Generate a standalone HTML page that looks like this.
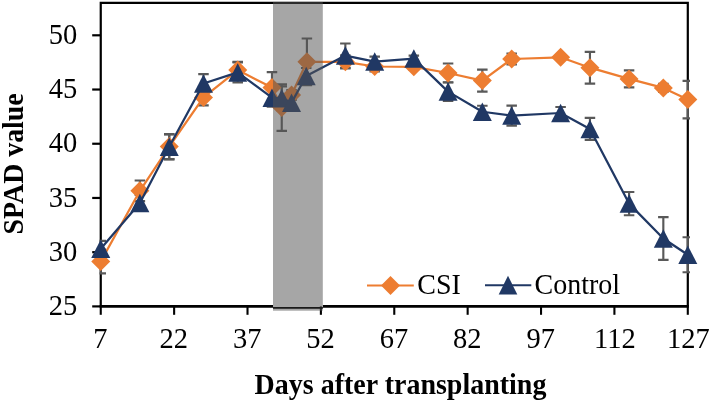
<!DOCTYPE html>
<html><head><meta charset="utf-8"><style>
html,body{margin:0;padding:0;background:#fff;}
svg{display:block;will-change:transform;}
.t{font-family:"Liberation Serif",serif;font-size:28.5px;fill:#000;}
.l{font-family:"Liberation Serif",serif;font-size:28px;fill:#000;}
.b{font-family:"Liberation Serif",serif;font-size:28px;font-weight:bold;fill:#000;}
</style></head><body>
<svg width="711" height="403" viewBox="0 0 711 403">
<defs><clipPath id="pc"><rect x="99.5" y="0" width="590.5" height="403"/></clipPath></defs>
<rect width="711" height="403" fill="#fff"/>
<path d="M100.75 306.4V2.9H687.8V306.4" fill="none" stroke="#000" stroke-width="2.2"/>
<path d="M99.65 306.4H273M322.9 306.4H688.9" fill="none" stroke="#000" stroke-width="2.6"/>
<line x1="92.2" y1="306.40" x2="100.75" y2="306.40" stroke="#000" stroke-width="2.2"/>
<text x="77.3" y="315.00" text-anchor="end" class="t">25</text>
<line x1="92.2" y1="252.18" x2="100.75" y2="252.18" stroke="#000" stroke-width="2.2"/>
<text x="77.3" y="260.78" text-anchor="end" class="t">30</text>
<line x1="92.2" y1="197.96" x2="100.75" y2="197.96" stroke="#000" stroke-width="2.2"/>
<text x="77.3" y="206.56" text-anchor="end" class="t">35</text>
<line x1="92.2" y1="143.74" x2="100.75" y2="143.74" stroke="#000" stroke-width="2.2"/>
<text x="77.3" y="152.34" text-anchor="end" class="t">40</text>
<line x1="92.2" y1="89.52" x2="100.75" y2="89.52" stroke="#000" stroke-width="2.2"/>
<text x="77.3" y="98.12" text-anchor="end" class="t">45</text>
<line x1="92.2" y1="35.30" x2="100.75" y2="35.30" stroke="#000" stroke-width="2.2"/>
<text x="77.3" y="43.90" text-anchor="end" class="t">50</text>
<line x1="100.75" y1="306.4" x2="100.75" y2="314.8" stroke="#000" stroke-width="2.1"/>
<text x="100.45" y="347.7" text-anchor="middle" class="t">7</text>
<line x1="174.13" y1="306.4" x2="174.13" y2="314.8" stroke="#000" stroke-width="2.1"/>
<text x="173.83" y="347.7" text-anchor="middle" class="t">22</text>
<line x1="247.51" y1="306.4" x2="247.51" y2="314.8" stroke="#000" stroke-width="2.1"/>
<text x="247.21" y="347.7" text-anchor="middle" class="t">37</text>
<line x1="320.89" y1="306.4" x2="320.89" y2="314.8" stroke="#000" stroke-width="2.1"/>
<text x="320.59" y="347.7" text-anchor="middle" class="t">52</text>
<line x1="394.27" y1="306.4" x2="394.27" y2="314.8" stroke="#000" stroke-width="2.1"/>
<text x="393.97" y="347.7" text-anchor="middle" class="t">67</text>
<line x1="467.65" y1="306.4" x2="467.65" y2="314.8" stroke="#000" stroke-width="2.1"/>
<text x="467.35" y="347.7" text-anchor="middle" class="t">82</text>
<line x1="541.03" y1="306.4" x2="541.03" y2="314.8" stroke="#000" stroke-width="2.1"/>
<text x="540.73" y="347.7" text-anchor="middle" class="t">97</text>
<line x1="614.41" y1="306.4" x2="614.41" y2="314.8" stroke="#000" stroke-width="2.1"/>
<text x="614.91" y="347.7" text-anchor="middle" class="t">112</text>
<line x1="687.79" y1="306.4" x2="687.79" y2="314.8" stroke="#000" stroke-width="2.1"/>
<text x="688.29" y="347.7" text-anchor="middle" class="t">127</text>
<g clip-path="url(#pc)"><path d="M100.75 249.60V273.40M95.50 249.60H106.00M95.50 273.40H106.00" stroke="#595959" stroke-width="2.15" fill="none"/><path d="M139.89 180.50V201.10M134.64 180.50H145.14M134.64 201.10H145.14" stroke="#595959" stroke-width="2.15" fill="none"/><path d="M169.24 134.10V159.10M163.99 134.10H174.49M163.99 159.10H174.49" stroke="#595959" stroke-width="2.15" fill="none"/><path d="M203.48 89.40V105.40M198.23 89.40H208.73M198.23 105.40H208.73" stroke="#595959" stroke-width="2.15" fill="none"/><path d="M237.73 61.80V78.40M232.48 61.80H242.98M232.48 78.40H242.98" stroke="#595959" stroke-width="2.15" fill="none"/><path d="M271.97 72.10V103.10M266.72 72.10H277.22M266.72 103.10H277.22" stroke="#595959" stroke-width="2.15" fill="none"/><path d="M281.75 84.40V130.80M276.50 84.40H287.00M276.50 130.80H287.00" stroke="#595959" stroke-width="2.15" fill="none"/><path d="M291.54 90.00V100.00M286.29 90.00H296.79M286.29 100.00H296.79" stroke="#595959" stroke-width="2.15" fill="none"/><path d="M306.91 38.50V85.10M301.66 38.50H312.16M301.66 85.10H312.16" stroke="#595959" stroke-width="2.15" fill="none"/><path d="M345.35 55.30V68.30M340.10 55.30H350.60M340.10 68.30H350.60" stroke="#595959" stroke-width="2.15" fill="none"/><path d="M374.70 61.50V71.50M369.45 61.50H379.95M369.45 71.50H379.95" stroke="#595959" stroke-width="2.15" fill="none"/><path d="M413.84 63.80V69.80M408.59 63.80H419.09M408.59 69.80H419.09" stroke="#595959" stroke-width="2.15" fill="none"/><path d="M448.08 63.50V82.50M442.83 63.50H453.33M442.83 82.50H453.33" stroke="#595959" stroke-width="2.15" fill="none"/><path d="M482.33 69.60V91.60M477.08 69.60H487.58M477.08 91.60H487.58" stroke="#595959" stroke-width="2.15" fill="none"/><path d="M511.68 53.50V64.50M506.43 53.50H516.93M506.43 64.50H516.93" stroke="#595959" stroke-width="2.15" fill="none"/><path d="M560.60 55.30V59.30M555.35 55.30H565.85M555.35 59.30H565.85" stroke="#595959" stroke-width="2.15" fill="none"/><path d="M589.95 51.80V83.60M584.70 51.80H595.20M584.70 83.60H595.20" stroke="#595959" stroke-width="2.15" fill="none"/><path d="M629.09 70.40V87.40M623.84 70.40H634.34M623.84 87.40H634.34" stroke="#595959" stroke-width="2.15" fill="none"/><path d="M663.33 83.90V91.90M658.08 83.90H668.58M658.08 91.90H668.58" stroke="#595959" stroke-width="2.15" fill="none"/><path d="M687.79 80.90V118.30M682.54 80.90H693.04M682.54 118.30H693.04" stroke="#595959" stroke-width="2.15" fill="none"/><path d="M100.75 240.90V256.60M95.50 240.90H106.00M95.50 256.60H106.00" stroke="#595959" stroke-width="2.15" fill="none"/><path d="M139.89 194.90V210.90M134.64 194.90H145.14M134.64 210.90H145.14" stroke="#595959" stroke-width="2.15" fill="none"/><path d="M169.24 134.35V159.35M163.99 134.35H174.49M163.99 159.35H174.49" stroke="#595959" stroke-width="2.15" fill="none"/><path d="M203.48 74.10V92.90M198.23 74.10H208.73M198.23 92.90H208.73" stroke="#595959" stroke-width="2.15" fill="none"/><path d="M237.73 62.40V82.40M232.48 62.40H242.98M232.48 82.40H242.98" stroke="#595959" stroke-width="2.15" fill="none"/><path d="M271.97 88.65V106.65M266.72 88.65H277.22M266.72 106.65H277.22" stroke="#595959" stroke-width="2.15" fill="none"/><path d="M281.75 86.30V110.30M276.50 86.30H287.00M276.50 110.30H287.00" stroke="#595959" stroke-width="2.15" fill="none"/><path d="M291.54 94.65V110.65M286.29 94.65H296.79M286.29 110.65H296.79" stroke="#595959" stroke-width="2.15" fill="none"/><path d="M306.21 68.00V84.00M300.96 68.00H311.46M300.96 84.00H311.46" stroke="#595959" stroke-width="2.15" fill="none"/><path d="M345.35 43.50V67.70M340.10 43.50H350.60M340.10 67.70H350.60" stroke="#595959" stroke-width="2.15" fill="none"/><path d="M374.70 56.60V66.60M369.45 56.60H379.95M369.45 66.60H379.95" stroke="#595959" stroke-width="2.15" fill="none"/><path d="M413.84 55.60V61.60M408.59 55.60H419.09M408.59 61.60H419.09" stroke="#595959" stroke-width="2.15" fill="none"/><path d="M448.08 82.20V101.00M442.83 82.20H453.33M442.83 101.00H453.33" stroke="#595959" stroke-width="2.15" fill="none"/><path d="M482.33 105.75V117.75M477.08 105.75H487.58M477.08 117.75H487.58" stroke="#595959" stroke-width="2.15" fill="none"/><path d="M511.68 105.60V125.60M506.43 105.60H516.93M506.43 125.60H516.93" stroke="#595959" stroke-width="2.15" fill="none"/><path d="M560.60 107.00V119.00M555.35 107.00H565.85M555.35 119.00H565.85" stroke="#595959" stroke-width="2.15" fill="none"/><path d="M589.95 117.90V139.90M584.70 117.90H595.20M584.70 139.90H595.20" stroke="#595959" stroke-width="2.15" fill="none"/><path d="M629.09 192.00V215.20M623.84 192.00H634.34M623.84 215.20H634.34" stroke="#595959" stroke-width="2.15" fill="none"/><path d="M663.33 217.10V259.90M658.08 217.10H668.58M658.08 259.90H668.58" stroke="#595959" stroke-width="2.15" fill="none"/><path d="M687.79 237.20V272.20M682.54 237.20H693.04M682.54 272.20H693.04" stroke="#595959" stroke-width="2.15" fill="none"/></g>
<polyline points="100.75,261.50 139.89,190.80 169.24,146.60 203.48,97.40 237.73,70.10 271.97,87.60 281.75,107.60 291.54,95.00 306.91,61.80 345.35,61.80 374.70,66.50 413.84,66.80 448.08,73.00 482.33,80.60 511.68,59.00 560.60,57.30 589.95,67.70 629.09,78.90 663.33,87.90 687.79,99.60" fill="none" stroke="#ED7D31" stroke-width="2.25" stroke-linejoin="round"/>
<path d="M100.75 252.00L110.25 261.50L100.75 271.00L91.25 261.50Z" fill="#ED7D31"/>
<path d="M139.89 181.30L149.39 190.80L139.89 200.30L130.39 190.80Z" fill="#ED7D31"/>
<path d="M169.24 137.10L178.74 146.60L169.24 156.10L159.74 146.60Z" fill="#ED7D31"/>
<path d="M203.48 87.90L212.98 97.40L203.48 106.90L193.98 97.40Z" fill="#ED7D31"/>
<path d="M237.73 60.60L247.23 70.10L237.73 79.60L228.23 70.10Z" fill="#ED7D31"/>
<path d="M271.97 78.10L281.47 87.60L271.97 97.10L262.47 87.60Z" fill="#ED7D31"/>
<path d="M281.75 98.10L291.25 107.60L281.75 117.10L272.25 107.60Z" fill="#ED7D31"/>
<path d="M291.54 85.50L301.04 95.00L291.54 104.50L282.04 95.00Z" fill="#ED7D31"/>
<path d="M306.91 52.30L316.41 61.80L306.91 71.30L297.41 61.80Z" fill="#ED7D31"/>
<path d="M345.35 52.30L354.85 61.80L345.35 71.30L335.85 61.80Z" fill="#ED7D31"/>
<path d="M374.70 57.00L384.20 66.50L374.70 76.00L365.20 66.50Z" fill="#ED7D31"/>
<path d="M413.84 57.30L423.34 66.80L413.84 76.30L404.34 66.80Z" fill="#ED7D31"/>
<path d="M448.08 63.50L457.58 73.00L448.08 82.50L438.58 73.00Z" fill="#ED7D31"/>
<path d="M482.33 71.10L491.83 80.60L482.33 90.10L472.83 80.60Z" fill="#ED7D31"/>
<path d="M511.68 49.50L521.18 59.00L511.68 68.50L502.18 59.00Z" fill="#ED7D31"/>
<path d="M560.60 47.80L570.10 57.30L560.60 66.80L551.10 57.30Z" fill="#ED7D31"/>
<path d="M589.95 58.20L599.45 67.70L589.95 77.20L580.45 67.70Z" fill="#ED7D31"/>
<path d="M629.09 69.40L638.59 78.90L629.09 88.40L619.59 78.90Z" fill="#ED7D31"/>
<path d="M663.33 78.40L672.83 87.90L663.33 97.40L653.83 87.90Z" fill="#ED7D31"/>
<path d="M687.79 90.10L697.29 99.60L687.79 109.10L678.29 99.60Z" fill="#ED7D31"/>
<polyline points="100.75,248.75 139.89,202.90 169.24,146.85 203.48,83.50 237.73,72.40 271.97,97.65 281.75,98.30 291.54,102.65 306.21,76.00 345.35,55.60 374.70,61.60 413.84,58.60 448.08,91.60 482.33,111.75 511.68,115.60 560.60,113.00 589.95,128.90 629.09,203.60 663.33,238.50 687.79,254.70" fill="none" stroke="#203864" stroke-width="2.25" stroke-linejoin="round"/>
<path d="M100.75 239.50L110.25 258.00L91.25 258.00Z" fill="#203864"/>
<path d="M139.89 193.65L149.39 212.15L130.39 212.15Z" fill="#203864"/>
<path d="M169.24 137.60L178.74 156.10L159.74 156.10Z" fill="#203864"/>
<path d="M203.48 74.25L212.98 92.75L193.98 92.75Z" fill="#203864"/>
<path d="M237.73 63.15L247.23 81.65L228.23 81.65Z" fill="#203864"/>
<path d="M271.97 88.40L281.47 106.90L262.47 106.90Z" fill="#203864"/>
<path d="M281.75 89.05L291.25 107.55L272.25 107.55Z" fill="#203864"/>
<path d="M291.54 93.40L301.04 111.90L282.04 111.90Z" fill="#203864"/>
<path d="M306.21 66.75L315.71 85.25L296.71 85.25Z" fill="#203864"/>
<path d="M345.35 46.35L354.85 64.85L335.85 64.85Z" fill="#203864"/>
<path d="M374.70 52.35L384.20 70.85L365.20 70.85Z" fill="#203864"/>
<path d="M413.84 49.35L423.34 67.85L404.34 67.85Z" fill="#203864"/>
<path d="M448.08 82.35L457.58 100.85L438.58 100.85Z" fill="#203864"/>
<path d="M482.33 102.50L491.83 121.00L472.83 121.00Z" fill="#203864"/>
<path d="M511.68 106.35L521.18 124.85L502.18 124.85Z" fill="#203864"/>
<path d="M560.60 103.75L570.10 122.25L551.10 122.25Z" fill="#203864"/>
<path d="M589.95 119.65L599.45 138.15L580.45 138.15Z" fill="#203864"/>
<path d="M629.09 194.35L638.59 212.85L619.59 212.85Z" fill="#203864"/>
<path d="M663.33 229.25L672.83 247.75L653.83 247.75Z" fill="#203864"/>
<path d="M687.79 245.45L697.29 263.95L678.29 263.95Z" fill="#203864"/>
<rect x="273" y="1.9" width="49.8" height="308.8" fill="#555" fill-opacity="0.5235"/>
<path d="M273 307.9H322.9" stroke="#1a1a1a" stroke-width="1.8"/>
<line x1="367" y1="285.4" x2="413.8" y2="285.4" stroke="#ED7D31" stroke-width="2"/>
<path d="M390.50 275.90L400.00 285.40L390.50 294.90L381.00 285.40Z" fill="#ED7D31"/>
<text transform="translate(417.35 293.9) scale(1 1.035)" class="l">CSI</text>
<line x1="485" y1="285.2" x2="531.3" y2="285.2" stroke="#203864" stroke-width="2"/>
<path d="M508.00 275.80L517.30 294.40L498.70 294.40Z" fill="#203864"/>
<text transform="translate(534.6 294.1) scale(1 1.035)" class="l">Control</text>
<text transform="translate(254.6 394.1) scale(1 1.045)" class="b" style="font-size:28px">Days after transplanting</text>
<text transform="translate(23.4 234.4) rotate(-90) scale(1 1.03)" class="b" style="font-size:27.85px">SPAD value</text>
</svg>
</body></html>
